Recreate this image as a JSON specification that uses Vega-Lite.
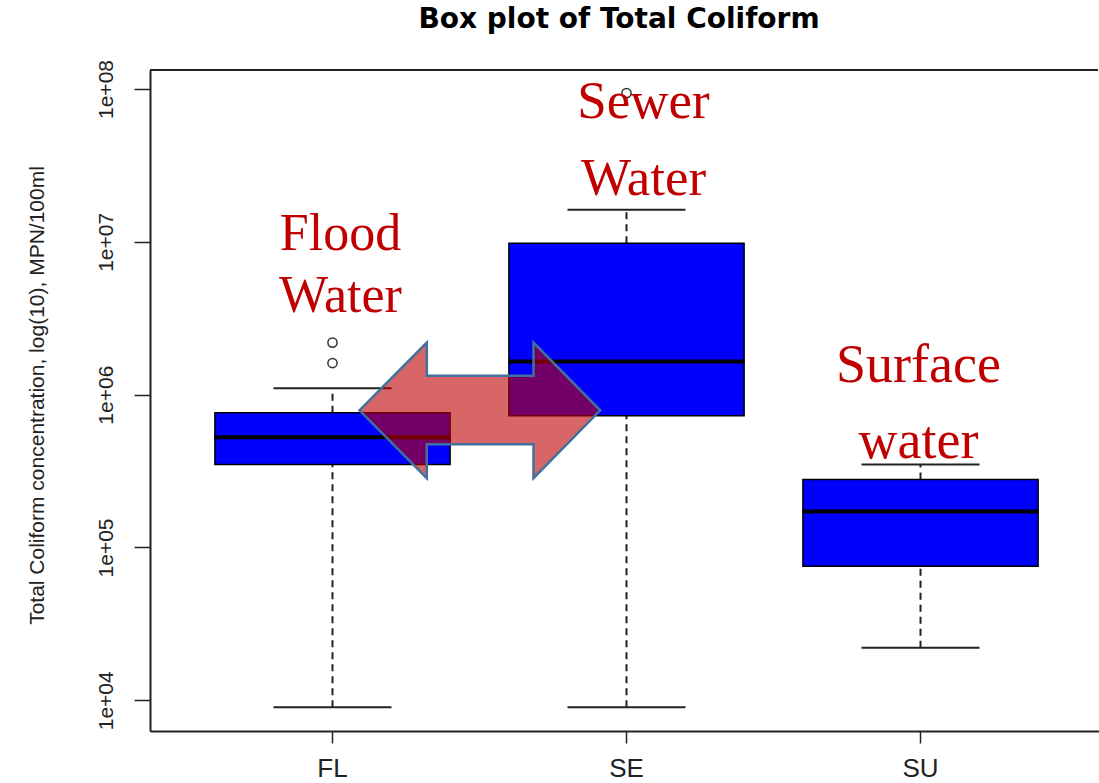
{
  "$schema": "https://vega.github.io/schema/vega-lite/v6.json",
  "width": 948,
  "height": 661,
  "autosize": {"type": "none"},
  "padding": {"left": 150, "top": 70, "right": 1, "bottom": 52},
  "background": "white",
  "title": {
    "text": "Box plot of Total Coliform",
    "font": "DejaVu Sans",
    "fontSize": 28,
    "fontWeight": "bold",
    "color": "#000000",
    "anchor": "middle",
    "frame": "group",
    "baseline": "alphabetic",
    "offset": 4,
    "dx": -5
  },
  "config": {
    "view": {"stroke": null},
    "axisY": {
      "grid": false,
      "domain": true,
      "domainColor": "#222222",
      "domainWidth": 2,
      "tickColor": "#222222",
      "tickSize": 16,
      "tickWidth": 1.5,
      "labelFont": "Liberation Sans",
      "labelFontSize": 21,
      "labelColor": "#222222",
      "labelAngle": 270,
      "labelAlign": "center",
      "labelBaseline": "alphabetic",
      "labelPadding": 22,
      "titleFont": "Liberation Sans",
      "titleFontSize": 21,
      "titleFontWeight": "normal",
      "titleColor": "#222222",
      "titleAngle": 270,
      "titleAlign": "center",
      "titleBaseline": "alphabetic",
      "titleX": -107,
      "titleY": 325
    },
    "axisX": {
      "grid": false,
      "domain": true,
      "domainColor": "#222222",
      "domainWidth": 2,
      "tickColor": "#222222",
      "tickSize": 12,
      "tickWidth": 1.5,
      "labelFont": "Liberation Sans",
      "labelFontSize": 26,
      "labelColor": "#222222",
      "labelAngle": 0,
      "labelPadding": 12
    }
  },
  "datasets": {
    "boxes": [
      {"cat": "FL", "lo": 9000, "q1": 349000, "med": 527000, "q3": 760000, "hi": 1100000},
      {"cat": "SE", "lo": 9000, "q1": 727000, "med": 1650000, "q3": 9800000, "hi": 16200000},
      {"cat": "SU", "lo": 22100, "q1": 75400, "med": 172000, "q3": 278000, "hi": 349000}
    ],
    "outliers": [
      {"cat": "FL", "value": 1610000},
      {"cat": "FL", "value": 2190000},
      {"cat": "SE", "value": 94000000}
    ],
    "labels": [
      {"cat": "FL", "label": "Flood", "value": 8870000},
      {"cat": "FL", "label": "Water", "value": 3480000},
      {"cat": "SE", "label": "Sewer", "value": 64900000},
      {"cat": "SE", "label": "Water", "value": 20300000},
      {"cat": "SU", "label": "Surface", "value": 1210000},
      {"cat": "SU", "label": "water", "value": 386000}
    ],
    "arrow": [
      {"cat": "FL", "value": 789000}
    ]
  },
  "layer": [
    {
      "data": {"name": "boxes"},
      "mark": {"type": "rule", "stroke": "#222222", "strokeWidth": 2, "strokeDash": [7, 5]},
      "encoding": {
        "x": {"field": "cat", "type": "nominal", "title": null,
              "scale": {"type": "band", "range": [0, 953], "paddingInner": 0.2, "paddingOuter": 0.2207}},
        "y": {"field": "lo", "type": "quantitative",
              "title": "Total Coliform concentration, log(10), MPN/100ml",
              "scale": {"type": "log", "domain": [6295, 133160000], "nice": false, "zero": false},
              "axis": {"values": [10000, 100000, 1000000, 10000000, 100000000],
                       "labelExpr": "replace(format(datum.value, '.0e'), 'e+', 'e+0')"}},
        "y2": {"field": "q1"}
      }
    },
    {
      "data": {"name": "boxes"},
      "mark": {"type": "rule", "stroke": "#222222", "strokeWidth": 2, "strokeDash": [7, 5]},
      "encoding": {
        "x": {"field": "cat", "type": "nominal", "title": null},
        "y": {"field": "q3", "type": "quantitative", "title": "Total Coliform concentration, log(10), MPN/100ml"},
        "y2": {"field": "hi"}
      }
    },
    {
      "data": {"name": "boxes"},
      "mark": {"type": "tick", "color": "#222222", "size": 118, "thickness": 2, "opacity": 1},
      "encoding": {
        "x": {"field": "cat", "type": "nominal", "title": null},
        "y": {"field": "lo", "type": "quantitative", "title": "Total Coliform concentration, log(10), MPN/100ml"}
      }
    },
    {
      "data": {"name": "boxes"},
      "mark": {"type": "tick", "color": "#222222", "size": 118, "thickness": 2, "opacity": 1},
      "encoding": {
        "x": {"field": "cat", "type": "nominal", "title": null},
        "y": {"field": "hi", "type": "quantitative", "title": "Total Coliform concentration, log(10), MPN/100ml"}
      }
    },
    {
      "data": {"name": "boxes"},
      "mark": {"type": "bar", "fill": "#0000FF", "stroke": "#000000", "strokeWidth": 1.5, "opacity": 1},
      "encoding": {
        "x": {"field": "cat", "type": "nominal", "title": null},
        "y": {"field": "q1", "type": "quantitative", "title": "Total Coliform concentration, log(10), MPN/100ml"},
        "y2": {"field": "q3"}
      }
    },
    {
      "data": {"name": "boxes"},
      "mark": {"type": "tick", "color": "#000000", "size": 236, "thickness": 4, "opacity": 1},
      "encoding": {
        "x": {"field": "cat", "type": "nominal", "title": null},
        "y": {"field": "med", "type": "quantitative", "title": "Total Coliform concentration, log(10), MPN/100ml"}
      }
    },
    {
      "data": {"name": "outliers"},
      "mark": {"type": "point", "shape": "circle", "filled": false, "size": 85, "stroke": "#333333", "strokeWidth": 1.5, "opacity": 1},
      "encoding": {
        "x": {"field": "cat", "type": "nominal", "title": null},
        "y": {"field": "value", "type": "quantitative", "title": "Total Coliform concentration, log(10), MPN/100ml"}
      }
    },
    {
      "data": {"name": "arrow"},
      "mark": {
        "type": "point",
        "shape": "M0.27,0 L0.943,-0.678 L0.943,-0.345 L2.01,-0.345 L2.01,-0.678 L2.677,0 L2.01,0.678 L2.01,0.338 L0.943,0.338 L0.943,0.678 Z",
        "size": 40000,
        "filled": true,
        "fill": "#C00000",
        "fillOpacity": 0.6,
        "opacity": 1,
        "stroke": "#41719C",
        "strokeWidth": 2.5,
        "strokeOpacity": 1
      },
      "encoding": {
        "x": {"field": "cat", "type": "nominal", "title": null},
        "y": {"field": "value", "type": "quantitative", "title": "Total Coliform concentration, log(10), MPN/100ml"}
      }
    },
    {
      "data": {"name": "labels"},
      "transform": [{"filter": "datum.cat === 'FL'"}],
      "mark": {"type": "text", "font": "Liberation Serif", "fontSize": 52, "color": "#C00000", "align": "center", "baseline": "alphabetic", "dx": 8},
      "encoding": {
        "x": {"field": "cat", "type": "nominal", "title": null},
        "y": {"field": "value", "type": "quantitative", "title": "Total Coliform concentration, log(10), MPN/100ml"},
        "text": {"field": "label"}
      }
    },
    {
      "data": {"name": "labels"},
      "transform": [{"filter": "datum.cat === 'SE'"}],
      "mark": {"type": "text", "font": "Liberation Serif", "fontSize": 53, "color": "#C00000", "align": "center", "baseline": "alphabetic", "dx": 17},
      "encoding": {
        "x": {"field": "cat", "type": "nominal", "title": null},
        "y": {"field": "value", "type": "quantitative", "title": "Total Coliform concentration, log(10), MPN/100ml"},
        "text": {"field": "label"}
      }
    },
    {
      "data": {"name": "labels"},
      "transform": [{"filter": "datum.cat === 'SU'"}],
      "mark": {"type": "text", "font": "Liberation Serif", "fontSize": 54, "color": "#C00000", "align": "center", "baseline": "alphabetic", "dx": -2},
      "encoding": {
        "x": {"field": "cat", "type": "nominal", "title": null},
        "y": {"field": "value", "type": "quantitative", "title": "Total Coliform concentration, log(10), MPN/100ml"},
        "text": {"field": "label"}
      }
    },
    {
      "data": {"values": [{}]},
      "mark": {"type": "rule", "stroke": "#222222", "strokeWidth": 2},
      "encoding": {
        "y": {"datum": 133160000, "type": "quantitative", "title": "Total Coliform concentration, log(10), MPN/100ml"}
      }
    }
  ]
}
